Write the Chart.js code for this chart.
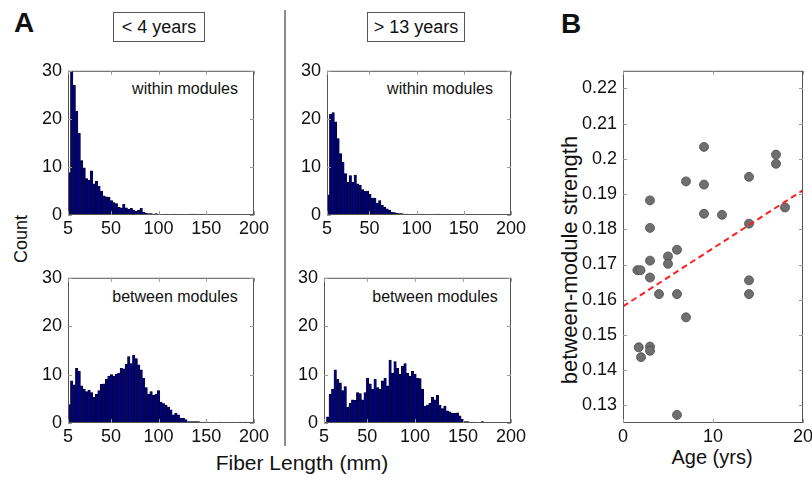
<!DOCTYPE html>
<html>
<head>
<meta charset="utf-8">
<script src="https://cdn.jsdelivr.net/npm/chart.js@4/dist/chart.umd.min.js"></script>
<style>
  body { margin: 0; width: 812px; height: 481px; position: relative; overflow: hidden; background: #fff;
         font-family: "Liberation Sans", Arial, sans-serif; color: #111; }
  canvas { position: absolute; }
  .t { position: absolute; transform: translate(-50%, -50%); white-space: nowrap; }
  .rot { transform: translate(-50%, -50%) rotate(-90deg); }
  .box { position: absolute; border: 1px solid #555; font-size: 18px; text-align: center; box-sizing: border-box; }
  .sep { position: absolute; left: 284px; top: 10px; width: 1.5px; height: 436px; background: #8a8a8a; }
</style>
</head>
<body>
<div class="t" style="left:24px;top:23px;font:bold 28px 'Liberation Sans',Arial">A</div>
<div class="t" style="left:571px;top:24px;font:bold 28px 'Liberation Sans',Arial">B</div>
<div class="box" style="left:113px;top:12px;width:92px;height:30px;line-height:28px">&lt; 4 years</div>
<div class="box" style="left:367px;top:12px;width:98px;height:30px;line-height:28px">&gt; 13 years</div>
<div class="sep"></div>
<div class="t" style="left:185px;top:89px;font-size:16px">within modules</div>
<div class="t" style="left:440px;top:89px;font-size:16px">within modules</div>
<div class="t" style="left:175px;top:297px;font-size:16px">between modules</div>
<div class="t" style="left:435px;top:297px;font-size:16px">between modules</div>
<div class="t rot" style="left:21px;top:239px;font-size:18px">Count</div>
<div class="t" style="left:302px;top:463px;font-size:21px">Fiber Length (mm)</div>
<div class="t rot" style="left:570px;top:260px;font-size:22px">between-module strength</div>
<div class="t" style="left:712px;top:457px;font-size:20px">Age (yrs)</div>

<canvas id="tl"></canvas>
<canvas id="tr"></canvas>
<canvas id="bl"></canvas>
<canvas id="br"></canvas>
<canvas id="sc"></canvas>

<script>
// histogram bins: 75 bins of 2.6 mm between 5 and 200 mm
const binStart = 5;
const binWidth = 2.6;
const histTicks = [5, 50, 100, 150, 200];
const countTicks = [0, 10, 20, 30];

// within modules, < 4 years
const withinYoung = [8.8, 30, 27, 21.6, 17, 11.3, 9.8, 7.6, 7.2, 9.2, 6.5, 7.0, 6.0, 5.0, 4.0, 3.8, 3.7, 3.0, 2.6, 2.4,
  1.6, 1.5, 2.2, 1.5, 1.2, 1.4, 1.0, 0.8, 1.0, 1.4, 0.6, 0.4, 0.3, 0.3, 0.2, 0.3, 0.2, 0, 0, 0.2,
  0, 0, 0, 0.2, 0, 0, 0, 0, 0, 0.2, 0.2, 0.2, 0, 0, 0, 0, 0, 0, 0, 0,
  0, 0, 0, 0, 0, 0, 0, 0, 0, 0, 0, 0, 0, 0, 0];
// within modules, > 13 years
const withinOld = [4.2, 21, 21.3, 19.4, 15.9, 12.8, 11, 8.6, 6.8, 8.2, 6.8, 8.3, 6.5, 6.2, 5.3, 5.0, 5.0, 4.3, 3.5, 3.5,
  2.5, 3.0, 2.0, 1.6, 1.3, 1.0, 0.6, 0.5, 0.4, 0.3, 0.3, 0.2, 0.2, 0, 0, 0, 0.2, 0, 0.2, 0,
  0, 0, 0, 0, 0.2, 0.2, 0, 0, 0, 0, 0.2, 0, 0, 0, 0, 0, 0, 0, 0, 0,
  0, 0, 0, 0, 0, 0, 0, 0, 0, 0, 0, 0, 0, 0, 0];
// between modules, < 4 years
const betweenYoung = [3.8, 8.7, 7.9, 11.3, 10.7, 7.7, 7, 6.5, 6.8, 6.3, 5.3, 5.9, 6.7, 8, 8.1, 9, 9.7, 10, 9.7, 10.1,
  10.3, 11.3, 11.2, 12.1, 13.7, 12.3, 14, 13.3, 12, 11, 9.3, 7.3, 6, 6.5, 5.7, 6, 6.7, 4.3, 4, 3.7,
  3.3, 2.7, 1.7, 2, 1.7, 1, 1, 0.7, 0.3, 0.3, 0.3, 0.3, 0.3, 0.2, 0.2, 0.2, 0.2, 0.1, 0.2, 0.1,
  0, 0.2, 0, 0, 0, 0, 0.2, 0, 0, 0.2, 0, 0.2, 0, 0, 0];
// between modules, > 13 years
const betweenOld = [0, 1.3, 6, 7, 11, 9, 8.3, 6.7, 7.5, 3.3, 4.1, 4.8, 4.7, 6.3, 6.1, 4.8, 6.3, 9.3, 8.1, 7,
  9, 7.3, 7, 8.7, 9.3, 7.7, 13, 10.3, 12.7, 11.3, 10.1, 11.7, 12.3, 10.3, 9.7, 10.7, 10.1, 9.3, 9.2, 7,
  3.5, 3.7, 4.1, 5.3, 4.8, 5.7, 3.7, 3, 3.5, 2.5, 2.3, 2, 2, 2.1, 1.5, 0.8, 0.3, 0.3, 0.2, 0.2,
  0.1, 0, 0, 0.3, 0, 0, 0, 0, 0, 0, 0, 0, 0, 0, 0];

// panel B
const ages = [3, 3, 9, 9, 9, 7, 11, 14, 14, 17, 17, 18,
  1.6, 1.95, 3, 3, 4, 5, 5, 6, 6, 7, 6, 1.75, 2, 3, 3, 14, 14];
const strength = [0.1882, 0.1804, 0.2034, 0.1927, 0.1844, 0.1936, 0.1841, 0.1949, 0.1816, 0.2012, 0.1986, 0.1862,
  0.1684, 0.1684, 0.1711, 0.1663, 0.1616, 0.1723, 0.1702, 0.1742, 0.1616, 0.155, 0.1273, 0.1465, 0.1437, 0.1467, 0.1455, 0.1655, 0.1616];
const fitAge = [0, 20];
const fitStrength = [0.1581, 0.1911];
const ageTicks = [0, 10, 20];
const strengthTicks = [0.13, 0.14, 0.15, 0.16, 0.17, 0.18, 0.19, 0.2, 0.21, 0.22];

Chart.defaults.font.family = "'Liberation Sans', Arial, sans-serif";
Chart.defaults.font.size = 18;
Chart.defaults.color = "#111";

// box round the plot area with small inward ticks on all four sides
const matlabBox = {
  id: "matlabBox",
  afterDatasetsDraw(chart) {
    const { ctx, chartArea: a, scales } = chart;
    ctx.save();
    ctx.strokeStyle = "#555";
    ctx.lineWidth = 1;
    ctx.strokeRect(a.left + 0.5, a.top + 0.5, a.width - 1, a.height - 1);
    ctx.strokeStyle = "#999";
    ctx.beginPath();
    scales.x.ticks.forEach((t) => {
      const px = Math.round(scales.x.getPixelForValue(t.value)) + 0.5;
      ctx.moveTo(px, a.bottom); ctx.lineTo(px, a.bottom - 4);
      ctx.moveTo(px, a.top); ctx.lineTo(px, a.top + 4);
    });
    scales.y.ticks.forEach((t) => {
      const py = Math.round(scales.y.getPixelForValue(t.value)) + 0.5;
      ctx.moveTo(a.left, py); ctx.lineTo(a.left + 4, py);
      ctx.moveTo(a.right, py); ctx.lineTo(a.right - 4, py);
    });
    ctx.stroke();
    ctx.restore();
  },
};

const PAD_T = 12, PAD_R = 22;

function place(id, plot, yW, xH) {
  const c = document.getElementById(id);
  c.width = yW + (plot.r - plot.l) + PAD_R;
  c.height = PAD_T + (plot.b - plot.t) + xH;
  c.style.left = (plot.l - yW) + "px";
  c.style.top = (plot.t - PAD_T) + "px";
  return c.getContext("2d");
}

function axisX(min, max, tickVals, xH, fmt) {
  return {
    type: "linear", min, max, offset: false,
    grid: { display: false, drawTicks: false, offset: false },
    border: { display: false },
    afterBuildTicks: (s) => { s.ticks = tickVals.map((v) => ({ value: v })); },
    afterFit: (s) => { s.height = xH; },
    ticks: { autoSkip: false, maxRotation: 0, padding: 3, callback: fmt || ((v) => v) },
  };
}

function axisY(min, max, tickVals, yW, fmt) {
  return {
    min, max,
    grid: { display: false, drawTicks: false },
    border: { display: false },
    afterBuildTicks: (s) => { s.ticks = tickVals.map((v) => ({ value: v })); },
    afterFit: (s) => { s.width = yW; },
    ticks: { padding: 6, callback: fmt || ((v) => v) },
  };
}

function renderHist(id, plot, counts) {
  const ctx = place(id, plot, 40, 26);
  const data = counts.map((c, i) => ({ x: binStart + binWidth * (i + 0.5), y: c }));
  return new Chart(ctx, {
    type: "bar",
    data: {
      datasets: [{
        data,
        backgroundColor: "#00007c",
        borderColor: "#000",
        borderWidth: 0.5,
        barPercentage: 1,
        categoryPercentage: 1,
      }],
    },
    options: {
      responsive: false,
      animation: false,
      events: [],
      layout: { padding: { top: PAD_T, right: PAD_R, left: 0, bottom: 0 } },
      plugins: { legend: { display: false }, tooltip: { enabled: false } },
      scales: {
        x: axisX(5, 200, histTicks, 26),
        y: axisY(0, 30, countTicks, 40),
      },
    },
    plugins: [matlabBox],
  });
}

renderHist("tl", { l: 68, r: 254, t: 66, b: 215 }, withinYoung);
renderHist("tr", { l: 327, r: 511, t: 66, b: 215 }, withinOld);
renderHist("bl", { l: 68, r: 254, t: 273, b: 423 }, betweenYoung);
renderHist("br", { l: 324, r: 511, t: 273, b: 423 }, betweenOld);

// panel B scatter with fit line
const scCtx = place("sc", { l: 623, r: 803, t: 66, b: 423 }, 52, 26);
new Chart(scCtx, {
  type: "scatter",
  data: {
    datasets: [
      {
        type: "line",
        data: fitAge.map((a, i) => ({ x: a, y: fitStrength[i] })),
        borderColor: "#ff1e1e",
        borderWidth: 2,
        borderDash: [6, 4],
        pointRadius: 0,
        order: 1,
      },
      {
        data: ages.map((a, i) => ({ x: a, y: strength[i] })),
        backgroundColor: "#6f6f6f",
        borderColor: "#4d4d4d",
        borderWidth: 0.8,
        pointRadius: 4.5,
        order: 2,
      },
    ],
  },
  options: {
    responsive: false,
    animation: false,
    events: [],
    layout: { padding: { top: PAD_T, right: PAD_R, left: 0, bottom: 0 } },
    plugins: { legend: { display: false }, tooltip: { enabled: false } },
    scales: {
      x: axisX(0, 20, ageTicks, 26),
      y: axisY(0.125, 0.225, strengthTicks, 52, (v) => String(+v.toFixed(2))),
    },
  },
  plugins: [matlabBox],
});
</script>
</body>
</html>
